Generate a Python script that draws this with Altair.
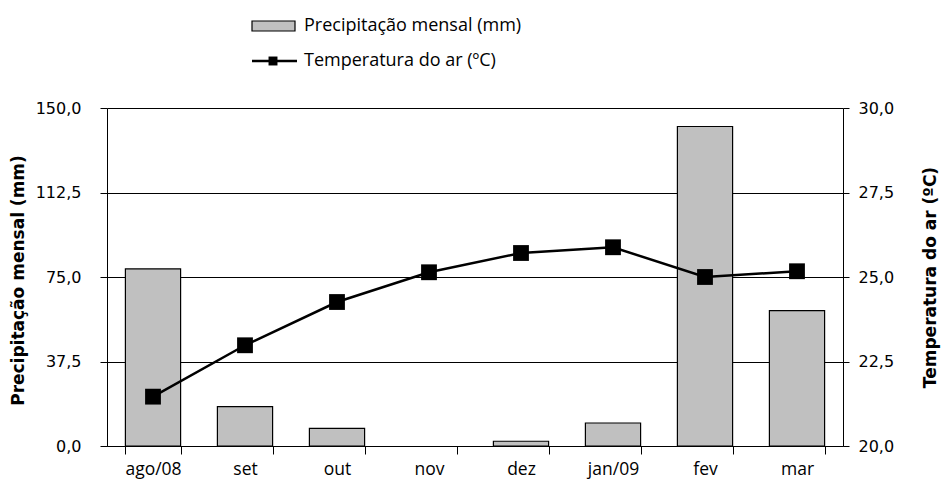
import altair as alt
import pandas as pd

# Monthly data
meses = ["ago/08", "set", "out", "nov", "dez", "jan/09", "fev", "mar"]
precipitacao = [78.6, 17.5, 7.8, 0.0, 2.1, 10.2, 141.8, 60.1]
temperatura = [21.46, 22.98, 24.26, 25.14, 25.71, 25.88, 25.0, 25.17]

lbl_precip = "Precipitação mensal (mm)"
lbl_temp = "Temperatura do ar (ºC)"

df = pd.DataFrame({"mes": meses, "precip": precipitacao, "temp": temperatura})

FONT = "DejaVu Sans"
FONT2 = "Open Sans"
W, H = 736, 338
comma_fmt = "replace(format(datum.value, '.1f'), '.', ',')"

x_enc = alt.X(
    "mes:N",
    sort=meses,
    title=None,
    scale=alt.Scale(paddingInner=0.4, paddingOuter=0.2),
    axis=alt.Axis(
        labelAngle=0, tickBand="extent", tickSize=8, labelPadding=6,
        domainColor="black", tickColor="black", labelColor="black",
        labelFont=FONT2, labelFontSize=17.5, grid=False,
    ),
)

bars = alt.Chart(df).mark_bar(color="#c0c0c0", stroke="black", strokeWidth=1.2).encode(
    x=x_enc,
    y=alt.Y(
        "precip:Q",
        scale=alt.Scale(domain=[0, 150], nice=False, zero=True),
        axis=alt.Axis(
            values=[0, 37.5, 75, 112.5, 150], labelExpr=comma_fmt,
            title=lbl_precip, titleX=-80, titleY=H / 2 + 3, titleAngle=270,
            titleFont=FONT, titleFontSize=17, titleFontWeight="bold", titleColor="black",
            labelFont=FONT, labelFontSize=16, labelColor="black", labelPadding=19,
            tickSize=7, tickColor="black", domainColor="black",
            grid=True, gridColor="black", gridOpacity=1, gridWidth=1.2,
        ),
    ),
    strokeOpacity=alt.condition("datum.precip > 0", alt.value(1), alt.value(0)),
)

linha = alt.Chart(df).mark_line(
    color="black", strokeWidth=2.5,
    point=alt.OverlayMarkDef(shape="square", size=250, filled=True, color="black", opacity=1),
).encode(
    x=alt.X("mes:N", sort=meses),
    y=alt.Y(
        "temp:Q",
        scale=alt.Scale(domain=[20, 30], nice=False, zero=False),
        axis=alt.Axis(
            orient="right", values=[20, 22.5, 25, 27.5, 30], labelExpr=comma_fmt,
            title=lbl_temp, titleX=96, titleY=H / 2, titleAngle=270,
            titleFont=FONT, titleFontSize=17, titleFontWeight="bold", titleColor="black",
            labelFont=FONT, labelFontSize=16, labelColor="black", labelPadding=9,
            tickSize=6, tickColor="black", domainColor="black", grid=False,
        ),
    ),
)

# Legend drawn above the plot
leg = pd.DataFrame({"k": [0]})
OX, OY = 107, 108
leg_rect = alt.Chart(leg).mark_rect(color="#c0c0c0", stroke="black", strokeWidth=1.2).encode(
    x=alt.value(252 - OX), x2=alt.value(295 - OX),
    y=alt.value(21 - OY), y2=alt.value(31 - OY),
)
leg_line = alt.Chart(leg).mark_rule(color="black", strokeWidth=2.5).encode(
    x=alt.value(252 - OX), x2=alt.value(297 - OX), y=alt.value(61 - OY),
)
leg_pt = alt.Chart(leg).mark_point(shape="square", size=80, filled=True, color="black", opacity=1).encode(
    x=alt.value(273 - OX), y=alt.value(61 - OY),
)
leg_t1 = alt.Chart(leg).mark_text(align="left", baseline="middle", font=FONT2, fontSize=18, color="black").encode(
    x=alt.value(304 - OX), y=alt.value(26 - OY), text=alt.value(lbl_precip),
)
leg_t2 = alt.Chart(leg).mark_text(align="left", baseline="middle", font=FONT2, fontSize=18, color="black").encode(
    x=alt.value(304 - OX), y=alt.value(61 - OY), text=alt.value(lbl_temp),
)

chart = (
    alt.layer(bars, linha, leg_rect, leg_line, leg_pt, leg_t1, leg_t2)
    .resolve_scale(y="independent")
    .properties(
        width=W, height=H,
        autosize=alt.AutoSizeParams(type="none"),
        padding={"left": OX, "top": OY, "right": 942 - OX - W, "bottom": 490 - OY - H},
        background="white",
    )
    .configure_view(stroke=None)
)

chart.save("out.html", embed_options={"renderer": "svg", "actions": False})
